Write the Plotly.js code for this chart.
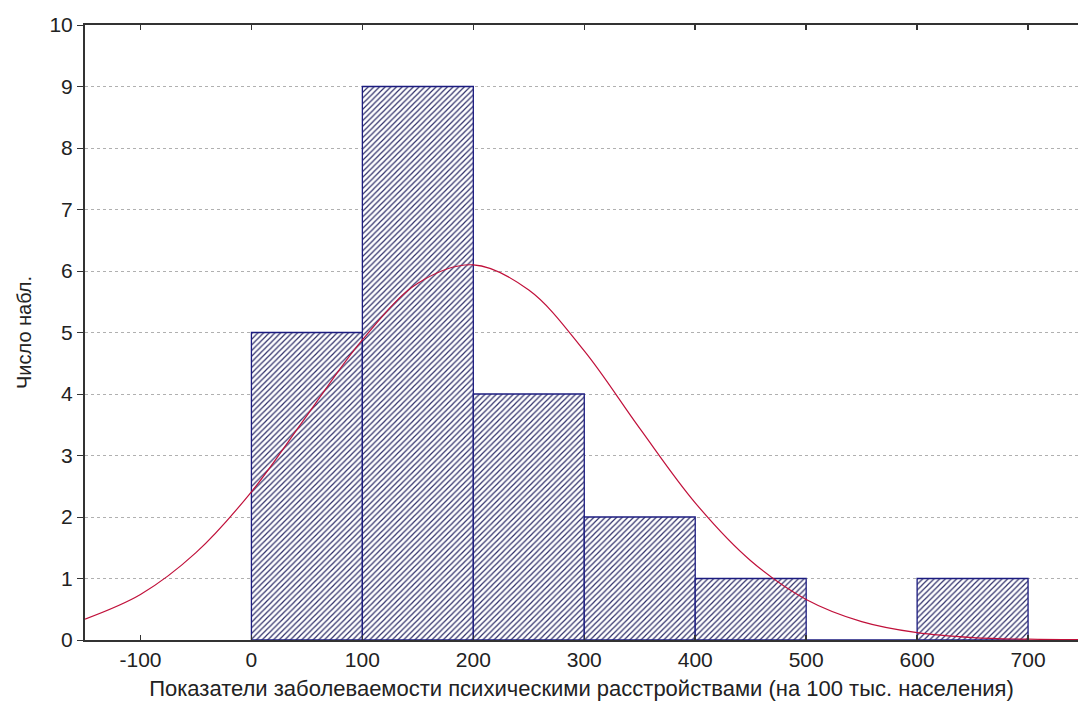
<!DOCTYPE html>
<html><head><meta charset="utf-8">
<script src="https://cdn.plot.ly/plotly-3.0.1.min.js"></script>
<style>html,body{margin:0;padding:0;background:#fff;}#chart{width:1078px;height:718px;}</style>
</head><body><div id="chart"></div>
<script>
// Histogram bins (centers) and counts
const binCenters = [50, 150, 250, 350, 450, 550, 650];
const counts = [5, 9, 4, 2, 1, 0, 1];
// Fitted normal curve
const curveX = [-150, -100, -50, 0, 50, 100, 150, 200, 250, 300, 350, 400, 450, 500, 550, 600, 650, 700, 750];
const curveY = [0.34, 0.74, 1.42, 2.41, 3.65, 4.88, 5.80, 6.10, 5.69, 4.70, 3.44, 2.23, 1.29, 0.66, 0.30, 0.12, 0.04, 0.013, 0.004];
const xTicks = [-100, 0, 100, 200, 300, 400, 500, 600, 700];
const yTicks = [0,1,2,3,4,5,6,7,8,9,10];

const font = "'Liberation Sans', Arial, sans-serif";
const traces = [
  {type:'bar', x: binCenters, y: counts, width: 100,
   marker:{color:'#ffffff', line:{color:'#1c1c80', width:1.3},
     pattern:{shape:'/', fgcolor:'#30306a', bgcolor:'#ffffff', size:4, solidity:0.3}},
   hoverinfo:'x+y'},
  {type:'scatter', mode:'lines', x: curveX, y: curveY,
   line:{color:'#c0103a', width:1.2, shape:'spline', smoothing:1}}
];
const layout = {
  width:1078, height:718,
  margin:{l:85, r:0, t:25, b:78},
  paper_bgcolor:'#ffffff', plot_bgcolor:'#ffffff',
  showlegend:false, bargap:0,
  font:{family:font, color:'#222', size:21},
  xaxis:{range:[-150, 745], tickvals:xTicks, ticktext:xTicks.map(String),
    ticks:'inside', ticklen:5, tickcolor:'#333', tickwidth:1.5,
    showline:true, linecolor:'#333', linewidth:2, mirror:'ticks',
    showgrid:false, zeroline:false, tickfont:{size:21, family:font},
    title:{text:'Показатели заболеваемости психическими расстройствами (на 100 тыс. населения)', font:{size:22, family:font}, standoff:10}},
  yaxis:{range:[0,10], tickvals:yTicks, ticks:'outside', ticklen:6, tickcolor:'#333',
    showline:true, linecolor:'#333', linewidth:2,
    showgrid:true, gridcolor:'#b0b0b0', griddash:'dot', gridwidth:1, zeroline:false,
    tickfont:{size:21, family:font},
    title:{text:'Число набл.', font:{size:20, family:font}, standoff:12}}
};
Plotly.newPlot('chart', traces, layout, {displayModeBar:false, staticPlot:true});
</script></body></html>
